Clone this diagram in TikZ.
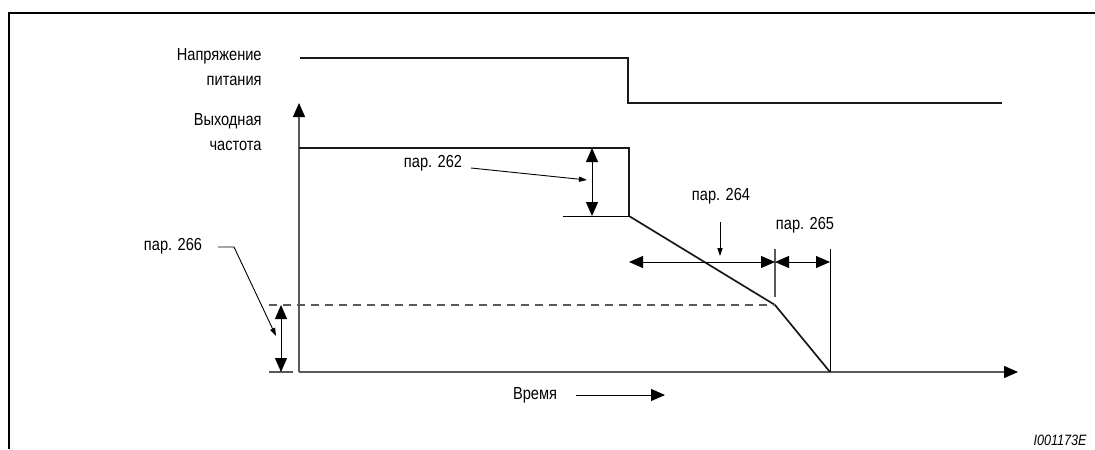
\documentclass[tikz,border=0pt]{standalone}
\usepackage{fontspec}
\setmainfont{Liberation Sans}[FakeStretch=0.84]
\usetikzlibrary{arrows.meta,positioning}

\begin{document}
\begin{tikzpicture}[
  x=0.5pt,y=-0.5pt,
  font=\fontsize{8.7}{12.5}\selectfont,
  >={Triangle[length=7pt,width=6pt]},
  sig/.style={line width=0.85pt,black!90},
  axis/.style={-{Triangle[length=7pt,width=6pt,black]},line width=0.6pt,gray!70!black},
  guide/.style={line width=0.55pt,gray!70!black},
  tick/.style={line width=0.5pt,black},
  dim/.style={<->,line width=0.5pt},
  lead/.style={-{Triangle[length=4pt,width=2.6pt]},line width=0.45pt},
  lbl/.style={inner sep=0pt,align=right},
]
\useasboundingbox (0,0) rectangle (1095,449);
% ---------- frame ----------
\draw[line width=1pt] (9,449) -- (9,13) -- (1095,13);
% ---------- axes ----------
\coordinate (o) at (299,372);
\coordinate (ytip) at (299,103);
\coordinate (xtip) at (1018,372);
\draw[axis] (o) -- (ytip);
\draw[axis] (o) -- (xtip);
% ---------- supply voltage ----------
\coordinate (u0) at (300,58);
\coordinate (u1) at (628,58);
\coordinate (u2) at (628,103);
\coordinate (u3) at (1002,103);
\draw[sig] (u0) -- (u1) -- (u2) -- (u3);
% ---------- output frequency ----------
\coordinate (f0) at (299,148);
\coordinate (f1) at (629,148);
\coordinate (f2) at (629,216);
\coordinate (f3) at (775,305);
\coordinate (f4) at (830,372);
\draw[sig] (f0) -- (f1) -- (f2) -- (f3) -- (f4);
% level of par. 266
\coordinate (lvl) at (269,305);
\draw[guide,dash pattern=on 4pt off 3pt] (lvl) -- (f3);
% ---------- guides and ticks ----------
\coordinate (t262) at (563,216);
\draw[tick] (t262) -- (f2);
\coordinate (z0) at (269,372);
\coordinate (z1) at (293,372);
\draw[guide] (z0) -- (z1);
\coordinate (v0) at (775,249);
\coordinate (v1) at (775,297);
\draw[guide] (v0) -- (v1);
\coordinate (w0) at (830,249);
\draw[tick] (w0) -- (f4);
% ---------- dimension arrows ----------
\coordinate (d262a) at (592,148);
\coordinate (d262b) at (592,216);
\draw[dim] (d262a) -- (d262b);
\coordinate (d266a) at (281,305);
\coordinate (d266b) at (281,372);
\draw[dim] (d266a) -- (d266b);
\coordinate (d264a) at (629,262);
\coordinate (d264b) at (775,262);
\coordinate (d265b) at (830,262);
\draw[dim] (d264a) -- (d264b);
\draw[dim] (d264b) -- (d265b);
% ---------- labels ----------
\node[lbl,anchor=east] (volt) at (262,67) {Напряжение\\питания};
\node[lbl,anchor=east] (freq) at (262,132) {Выходная\\частота};
\node[lbl] (p262) at (433,163) {пар. 262};
\node[lbl] (p264) at (721,196) {пар. 264};
\node[lbl] (p265) at (805,225) {пар. 265};
\node[lbl] (p266) at (173,246) {пар. 266};
\node[lbl] (time) at (535,395) {Время};
\node[lbl,font=\fontsize{7.5}{9}\selectfont\itshape] (code) at (1060,440) {I001173E};
% ---------- leaders ----------
\coordinate (l262a) at (471,168);
\coordinate (l262b) at (587,180);
\draw[lead] (l262a) -- (l262b);
\coordinate (l264a) at (720,222);
\coordinate (l264b) at (720,256);
\draw[lead] (l264a) -- (l264b);
\coordinate (l266a) at (218,247);
\coordinate (l266b) at (234,247);
\coordinate (l266c) at (276,336);
\draw[lead] (l266a) -- (l266b) -- (l266c);
\coordinate (ta) at (576,395);
\coordinate (tb) at (665,395);
\draw[->,line width=0.5pt] (ta) -- (tb);
\end{tikzpicture}
\end{document}
